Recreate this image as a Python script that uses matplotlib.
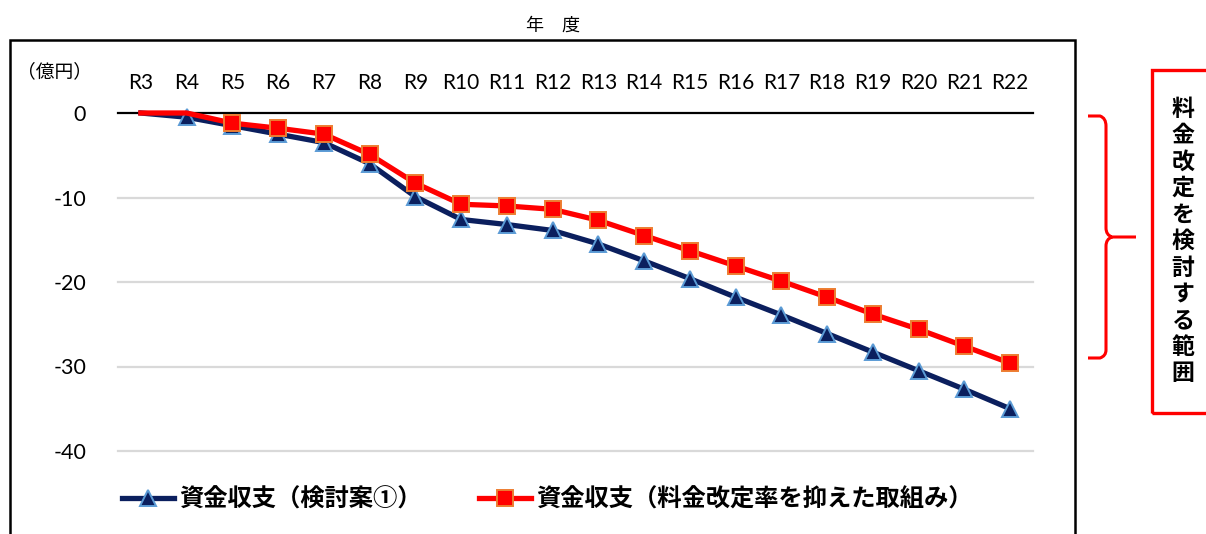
import matplotlib
matplotlib.use("Agg")
import matplotlib.pyplot as plt
from matplotlib.path import Path
from matplotlib.patches import PathPatch, Rectangle
from matplotlib.lines import Line2D

plt.rcParams['font.family'] = ['Lato', 'Noto Sans CJK JP', 'DejaVu Sans']

# Fiscal years (Reiwa)
years = ['R3', 'R4', 'R5', 'R6', 'R7', 'R8', 'R9', 'R10', 'R11', 'R12', 'R13',
         'R14', 'R15', 'R16', 'R17', 'R18', 'R19', 'R20', 'R21', 'R22']

# Cumulative cash balance, 100 million yen
plan1 = [0, -0.5, -1.5, -2.5, -3.5, -6.0, -9.9, -12.6, -13.2, -13.9, -15.5,
         -17.5, -19.6, -21.8, -23.9, -26.1, -28.3, -30.5, -32.7, -35.0]
restrained = [0, 0, -1.2, -1.8, -2.5, -4.9, -8.3, -10.8, -11.0, -11.4, -12.7,
              -14.5, -16.3, -18.1, -19.9, -21.8, -23.8, -25.6, -27.6, -29.6]

y_ticks = [0, -10, -20, -30, -40]
label_plan1 = '資金収支（検討案①）'
label_restrained = '資金収支（料金改定率を抑えた取組み）'

W, H = 1206, 534
fig = plt.figure(figsize=(W / 100, H / 100), dpi=100)


def fx(x):
    return x / W


def fy(y):
    return 1 - y / H


ax = fig.add_axes([fx(118), fy(451), fx(1033) - fx(118), fy(113) - fy(451)])
ax.set_xlim(-0.5, len(years) - 0.5)
ax.set_ylim(-40, 0)
for s in ax.spines.values():
    s.set_visible(False)

for v in y_ticks[1:]:
    ax.axhline(v, color='#d9d9d9', lw=1.6, zorder=0, clip_on=False)
ax.axhline(0, color='black', lw=1.6, zorder=1, clip_on=False)

x = list(range(len(years)))
ax.plot(x, plan1, color='#0b1f5e', lw=3.8, marker='^', ms=12,
        markerfacecolor='#0b1f5e', markeredgecolor='#5b9bd5', markeredgewidth=1.4,
        markevery=list(range(1, len(years))), clip_on=False, zorder=3)
ax.plot(x, restrained, color='#ff0000', lw=3.8, marker='s', ms=11,
        markerfacecolor='#ff0000', markeredgecolor='#ed7d31', markeredgewidth=1.4,
        markevery=list(range(2, len(years))), clip_on=False, zorder=4)

ax.xaxis.tick_top()
ax.set_xticks(x)
ax.set_xticklabels(years, fontsize=15)
ax.tick_params(axis='x', length=0, pad=14.5)
ax.set_yticks(y_ticks)
ax.set_yticklabels([str(v) for v in y_ticks], fontsize=15.5)
ax.tick_params(axis='y', length=0, pad=23)

# Outer frame of the chart
frame = Rectangle((fx(10), fy(560)), fx(1075) - fx(10), fy(40) - fy(560),
                  transform=fig.transFigure, fill=False, edgecolor='black', lw=1.8)
fig.add_artist(frame)

fig.text(fx(553), fy(26), '年　度', ha='center', va='center', fontsize=13,
         family=['Noto Sans CJK JP'])
fig.text(fx(55), fy(72), '（億円）', ha='center', va='center', fontsize=13.5,
         family=['Noto Sans CJK JP'])

# Legend
h1 = Line2D([], [], color='#0b1f5e', lw=3.8, marker='^', ms=12,
            markerfacecolor='#0b1f5e', markeredgecolor='#5b9bd5', markeredgewidth=1.4)
h2 = Line2D([], [], color='#ff0000', lw=3.8, marker='s', ms=11,
            markerfacecolor='#ff0000', markeredgecolor='#ed7d31', markeredgewidth=1.4)
fig.legend([h1, h2], [label_plan1, label_restrained], ncol=2, frameon=False,
           loc='center left', bbox_to_anchor=(fx(122), fy(500)),
           borderpad=0, borderaxespad=0, handlelength=2.15, handletextpad=0.2,
           columnspacing=2.35, numpoints=1,
           prop={'family': ['Noto Sans CJK JP'], 'weight': 'bold', 'size': 17.5})

# Brace marking the range under review
verts = [
    (1088, 116), (1100, 116), (1106, 118), (1106, 126),
    (1106, 228), (1106, 235), (1112, 237), (1136, 237),
    (1112, 237), (1106, 239), (1106, 246),
    (1106, 350), (1106, 356), (1100, 358), (1088, 358),
]
codes = [Path.MOVETO, Path.LINETO, Path.CURVE3, Path.CURVE3,
         Path.LINETO, Path.CURVE3, Path.CURVE3, Path.LINETO,
         Path.MOVETO, Path.CURVE3, Path.CURVE3,
         Path.LINETO, Path.CURVE3, Path.CURVE3, Path.LINETO]
brace = Path([(fx(a), fy(b)) for a, b in verts], codes)
fig.add_artist(PathPatch(brace, transform=fig.transFigure, fill=False,
                         edgecolor='#ff0000', lw=2.2, capstyle='butt'))

box = Rectangle((fx(1152), fy(413)), fx(1230) - fx(1152), fy(70) - fy(413),
                transform=fig.transFigure, fill=False, edgecolor='#ff0000', lw=2.4)
fig.add_artist(box)

note = '料金改定を検討する範囲'
top_c, bot_c = 109, 374
step = (bot_c - top_c) / (len(note) - 1)
for i, ch in enumerate(note):
    fig.text(fx(1183), fy(top_c + i * step), ch, ha='center', va='center',
             fontsize=16.5, fontweight='bold', family=['Noto Sans CJK JP'])

fig.savefig('out.png', dpi=100)
